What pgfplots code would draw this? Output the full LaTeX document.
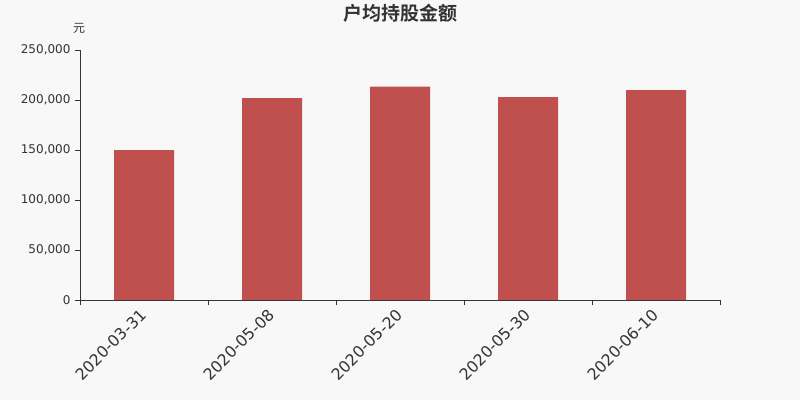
\documentclass[border=0pt]{standalone}
\usepackage{fontspec}
\setmainfont{DejaVu Sans}
\newfontfamily\cjk{Noto Sans CJK SC}
\newfontfamily\cjkb{Noto Sans CJK SC Bold}
\usepackage{pgfplots}
\pgfplotsset{compat=1.18}
\definecolor{bg}{HTML}{F8F8F8}
\definecolor{barred}{HTML}{C0504D}
\definecolor{txt}{HTML}{333333}
\begin{document}
\begin{tikzpicture}[x=1bp,y=1bp]
\fill[bg] (0,0) rectangle (800,400);
\useasboundingbox (0,0) rectangle (800,400);
\node[txt,font=\cjkb\fontsize{19bp}{21bp}\selectfont] at (400,387) {户均持股金额};
\node[txt,font=\cjk\fontsize{12bp}{14bp}\selectfont] at (79,372) {元};
\begin{axis}[
    at={(80bp,100bp)}, anchor=south west,
    scale only axis,
    width=640bp, height=250bp,
    xmin=-0.5, xmax=4.5,
    ymin=0, ymax=250000,
    axis lines*=left,
    axis line style={txt, line width=1bp},
    ybar, bar width=60bp,
    xtick={-0.5,0.5,1.5,2.5,3.5,4.5},
    xticklabels={},
    extra x ticks={0,1,2,3,4},
    extra x tick labels={2020-03-31,2020-05-08,2020-05-20,2020-05-30,2020-06-10},
    extra x tick style={major tick length=0pt},
    tick align=outside,
    tick style={txt, line width=1bp},
    major tick length=5bp,
    ytick={0,50000,100000,150000,200000,250000},
    scaled y ticks=false,
    /pgf/number format/.cd, fixed, 1000 sep={,}, assume math mode=true,
    /pgfplots/.cd,
    yticklabel style={txt, font=\fontsize{12bp}{14bp}\selectfont, xshift=-1bp},
    xticklabel style={txt, font=\fontsize{15.8bp}{17bp}\selectfont, rotate=45, anchor=north east, xshift=-5.7bp, yshift=1.4bp},
]
\addplot[fill=barred, draw=none] coordinates {
    (0,150000) (1,202000) (2,213300) (3,203000) (4,210000)
};
\end{axis}
\end{tikzpicture}
\end{document}
